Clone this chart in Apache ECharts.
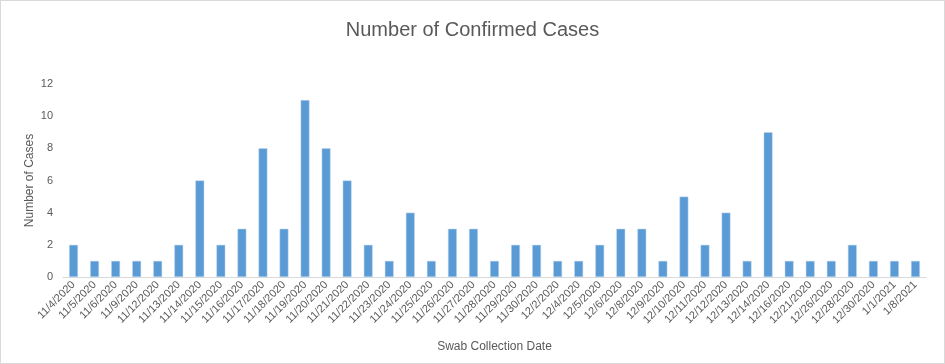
<!DOCTYPE html>
<html><head><meta charset="utf-8">
<script src="https://cdn.jsdelivr.net/npm/echarts@6/dist/echarts.min.js"></script>
<style>html,body{margin:0;padding:0;background:#fff}#c{width:943px;height:362px;border:1px solid #d9d9d9}</style>
</head><body><div id="c"></div>
<script>
const categories = ["11/4/2020","11/5/2020","11/6/2020","11/9/2020","11/12/2020","11/13/2020","11/14/2020","11/15/2020","11/16/2020","11/17/2020","11/18/2020","11/19/2020","11/20/2020","11/21/2020","11/22/2020","11/23/2020","11/24/2020","11/25/2020","11/26/2020","11/27/2020","11/28/2020","11/29/2020","11/30/2020","12/2/2020","12/4/2020","12/5/2020","12/6/2020","12/8/2020","12/9/2020","12/10/2020","12/11/2020","12/12/2020","12/13/2020","12/14/2020","12/16/2020","12/21/2020","12/26/2020","12/28/2020","12/30/2020","1/1/2021","1/8/2021"];
const cases = [2,1,1,1,1,2,6,2,3,8,3,11,8,6,2,1,4,1,3,3,1,2,2,1,1,2,3,3,1,5,2,4,1,9,1,1,1,2,1,1,1];
const yTicks = {min:0,max:12,interval:2};
const chart = echarts.init(document.getElementById('c'));
const font = "'Liberation Sans', 'DejaVu Sans', sans-serif";
chart.setOption({
  animation:false,
  title:{text:'Number of Confirmed Cases',left:'center',top:14,textStyle:{fontFamily:font,fontSize:20,fontWeight:'normal',color:'#595959'}},
  grid:{left:62,right:18,top:83,bottom:86},
  xAxis:{type:'category',data:categories,name:'Swab Collection Date',nameLocation:'middle',nameGap:64,
    nameTextStyle:{fontFamily:font,fontSize:12,color:'#595959'},
    axisLine:{lineStyle:{color:'#d9d9d9',width:1}},axisTick:{show:false},
    axisLabel:{rotate:45,interval:0,fontFamily:font,fontSize:11,color:'#595959',margin:6}},
  yAxis:{type:'value',min:yTicks.min,max:yTicks.max,interval:yTicks.interval,name:'Number of Cases',nameLocation:'middle',nameGap:27,nameMoveOverlap:false,
    nameTextStyle:{fontFamily:font,fontSize:12,color:'#595959'},
    splitLine:{show:false},axisLine:{show:false},axisTick:{show:false},
    axisLabel:{fontFamily:font,fontSize:11,color:'#595959',margin:10}},
  series:[{type:'bar',data:cases,barWidth:'42%',itemStyle:{color:'#5b9bd5',borderColor:'#bdd7ee',borderWidth:0.5}}]
});
</script></body></html>
